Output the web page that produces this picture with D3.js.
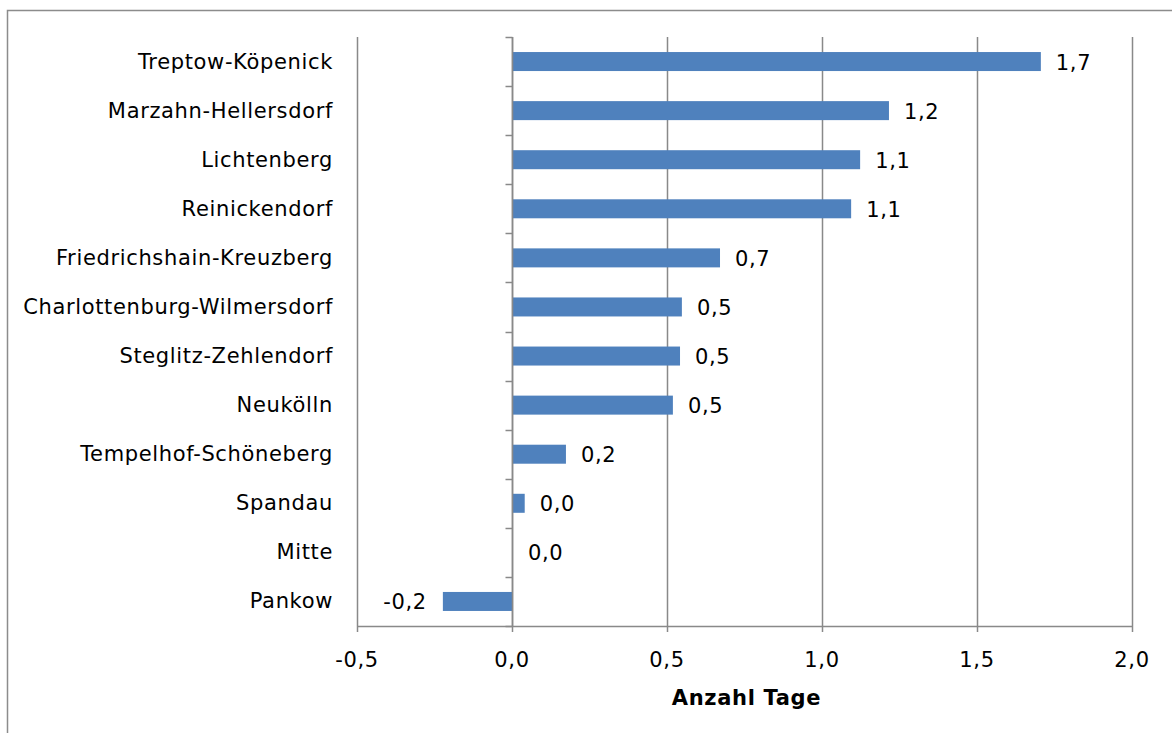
<!DOCTYPE html>
<html>
<head>
<meta charset="utf-8">
<script src="https://cdn.jsdelivr.net/npm/d3@7"></script>
<style>
  html, body { margin: 0; padding: 0; background: #fff; }
  svg text { font-family: "DejaVu Sans", Verdana, sans-serif; fill: #000; letter-spacing: 0.65px; }
</style>
</head>
<body>
<svg id="chart" width="1172" height="733"></svg>
<script>
// ---- data ----
const categories = [
  "Treptow-Köpenick", "Marzahn-Hellersdorf", "Lichtenberg", "Reinickendorf",
  "Friedrichshain-Kreuzberg", "Charlottenburg-Wilmersdorf", "Steglitz-Zehlendorf",
  "Neukölln", "Tempelhof-Schöneberg", "Spandau", "Mitte", "Pankow"
];
const values = [1.706, 1.216, 1.123, 1.094, 0.671, 0.548, 0.542, 0.519, 0.174, 0.041, 0.003, -0.223];
const xTicks = [-0.5, 0.0, 0.5, 1.0, 1.5, 2.0];
const xTitle = "Anzahl Tage";

// ---- layout ----
const svg = d3.select("#chart");
const W = 1172, H = 733;
const plot = { left: 357, right: 1132, top: 37, bottom: 626 };
const gridColor = "#898989";
const barColor = "#4f81bd";
const fs = 21;
const fmt = v => d3.format(".1f")(v).replace(".", ",").replace("−", "-");

const x = d3.scaleLinear().domain([-0.5, 2.0]).range([plot.left, plot.right]);
const y = d3.scaleBand().domain(categories).range([plot.top, plot.bottom])
  .paddingInner(0.61).paddingOuter(0.305);

// outer frame
svg.append("rect")
  .attr("x", 7.5).attr("y", 10.5)
  .attr("width", W + 20).attr("height", H + 20)
  .attr("fill", "none").attr("stroke", "#8c8c8c").attr("stroke-width", 1.5);

// vertical gridlines
svg.append("g").selectAll("line").data(xTicks).join("line")
  .attr("x1", d => Math.round(x(d)) + 0.5).attr("x2", d => Math.round(x(d)) + 0.5)
  .attr("y1", plot.top).attr("y2", plot.bottom)
  .attr("stroke", gridColor).attr("stroke-width", 1.5);

// bars
const x0 = Math.round(x(0)) + 0.5;
svg.append("g").selectAll("rect").data(categories).join("rect")
  .attr("x", (d, i) => Math.min(x(values[i]), x0))
  .attr("width", (d, i) => Math.abs(x(values[i]) - x0))
  .attr("y", d => y(d) + y.bandwidth() / 2 - 9.5)
  .attr("height", 19)
  .attr("fill", barColor);

// data labels
svg.append("g").selectAll("text").data(categories).join("text")
  .attr("x", (d, i) => values[i] >= 0 ? x(values[i]) + 15 : x(values[i]) - 16)
  .attr("y", d => y(d) + y.bandwidth() / 2 + 8)
  .attr("text-anchor", (d, i) => values[i] >= 0 ? "start" : "end")
  .attr("font-size", fs)
  .text((d, i) => fmt(values[i]));

// y axis at zero with ticks at band boundaries
const yAxis = svg.append("g");
yAxis.append("line")
  .attr("x1", x0).attr("x2", x0).attr("y1", plot.top).attr("y2", plot.bottom)
  .attr("stroke", gridColor).attr("stroke-width", 1.5);
const boundaries = categories.map(d => y(d) - y.step() * y.paddingInner() / 2).concat([plot.bottom]);
yAxis.selectAll("line.tk").data(boundaries).join("line").attr("class", "tk")
  .attr("x1", x0 - 7).attr("x2", x0)
  .attr("y1", d => Math.round(d) + 0.5).attr("y2", d => Math.round(d) + 0.5)
  .attr("stroke", gridColor).attr("stroke-width", 1.5);

// category labels
svg.append("g").selectAll("text").data(categories).join("text")
  .attr("x", 333)
  .attr("y", d => y(d) + y.bandwidth() / 2 + 7)
  .attr("text-anchor", "end")
  .attr("font-size", fs)
  .text(d => d);

// bottom axis
const xAxis = svg.append("g");
xAxis.append("line")
  .attr("x1", plot.left).attr("x2", plot.right)
  .attr("y1", plot.bottom + 0.5).attr("y2", plot.bottom + 0.5)
  .attr("stroke", gridColor).attr("stroke-width", 1.5);
xAxis.selectAll("line.tk").data(xTicks).join("line").attr("class", "tk")
  .attr("x1", d => Math.round(x(d)) + 0.5).attr("x2", d => Math.round(x(d)) + 0.5)
  .attr("y1", plot.bottom).attr("y2", plot.bottom + 6)
  .attr("stroke", gridColor).attr("stroke-width", 1.5);
xAxis.selectAll("text").data(xTicks).join("text")
  .attr("x", d => x(d))
  .attr("y", 667)
  .attr("text-anchor", "middle")
  .attr("font-size", fs)
  .text(d => fmt(d));

// axis title
svg.append("text")
  .attr("x", (plot.left + plot.right) / 2 + 2)
  .attr("y", 705)
  .attr("text-anchor", "middle")
  .attr("font-size", fs)
  .attr("font-weight", "bold")
  .text(xTitle);
</script>
</body>
</html>
